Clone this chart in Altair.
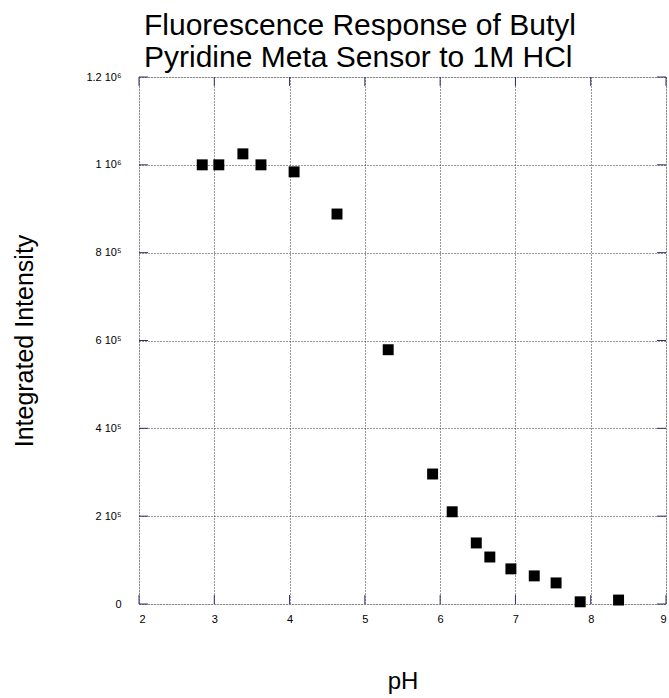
import altair as alt
import pandas as pd

ph = [2.84, 3.06, 3.38, 3.62, 4.06, 4.63, 5.31, 5.90, 6.16, 6.48, 6.66, 6.94, 7.25, 7.54, 7.86, 8.37]
intensity = [1.0e6, 1.0e6, 1.025e6, 1.0e6, 0.984e6, 0.888e6, 0.579e6, 0.296e6, 0.21e6, 0.139e6,
             0.107e6, 0.080e6, 0.064e6, 0.048e6, 0.005e6, 0.009e6]

x_ticks = [2, 3, 4, 5, 6, 7, 8, 9]
y_ticks = [0, 200000, 400000, 600000, 800000, 1000000, 1200000]
y_labels = ["0", "2 10\u2075", "4 10\u2075", "6 10\u2075", "8 10\u2075", "1 10\u2076", "1.2 10\u2076"]

df = pd.DataFrame({"ph": ph, "intensity": intensity})
xt = pd.DataFrame({"v": x_ticks})
yt = pd.DataFrame({"v": y_ticks})

W = H = 527
FONT = "Liberation Sans"
NAVY = "#2e2e6e"

label_map = "{" + ",".join(f"'{v}':'{l}'" for v, l in zip(y_ticks, y_labels)) + "}"

xs = alt.Scale(domain=[2, 9], nice=False, zero=False)
ys = alt.Scale(domain=[0, 1200000], nice=False)

points = alt.Chart(df).mark_square(size=120, color="black", opacity=1).encode(
    x=alt.X("ph:Q", scale=xs, title="pH",
            axis=alt.Axis(values=x_ticks, format="d", grid=True, gridDash=[1, 2],
                          gridColor="#333333", gridOpacity=1, ticks=False, domain=False,
                          labelFont=FONT, labelFontSize=11, labelPadding=9, labelColor="black",
                          titleFont=FONT, titleFontSize=24, titleFontWeight="normal",
                          titlePadding=45, titleColor="black")),
    y=alt.Y("intensity:Q", scale=ys, title="Integrated Intensity",
            axis=alt.Axis(values=y_ticks, grid=True, gridDash=[1, 2], gridColor="#333333",
                          gridOpacity=1, ticks=False, domain=False,
                          labelExpr=f"{label_map}[''+datum.value]",
                          labelFont=FONT, labelFontSize=11, labelPadding=18, labelColor="black",
                          titleFont=FONT, titleFontSize=25, titleFontWeight="normal",
                          titlePadding=48, titleColor="black")),
)

tick_len = 9
bottom_ticks = alt.Chart(xt).mark_rule(color=NAVY, strokeWidth=1).encode(
    x=alt.X("v:Q", scale=xs), y=alt.value(H), y2=alt.value(H - tick_len))
top_ticks = alt.Chart(xt).mark_rule(color=NAVY, strokeWidth=1).encode(
    x=alt.X("v:Q", scale=xs), y=alt.value(0), y2=alt.value(tick_len))
left_ticks = alt.Chart(yt).mark_rule(color=NAVY, strokeWidth=1).encode(
    y=alt.Y("v:Q", scale=ys), x=alt.value(0), x2=alt.value(tick_len))
right_ticks = alt.Chart(yt).mark_rule(color=NAVY, strokeWidth=1).encode(
    y=alt.Y("v:Q", scale=ys), x=alt.value(W), x2=alt.value(W - tick_len))

chart = alt.layer(points, bottom_ticks, top_ticks, left_ticks, right_ticks).properties(
    width=W, height=H,
    title=alt.TitleParams(
        text=["Fluorescence Response of Butyl", "Pyridine Meta Sensor to 1M HCl"],
        anchor="start", frame="group", font=FONT, fontSize=30, fontWeight="normal",
        color="black", lineHeight=32, offset=-2, dx=5),
    autosize=alt.AutoSizeParams(type="none"),
    padding={"left": 139, "top": 77, "right": 3, "bottom": 94},
).configure_view(stroke=NAVY, strokeWidth=1.5).configure(background="white")

chart.save("out.html", embed_options={"renderer": "svg", "actions": False})
